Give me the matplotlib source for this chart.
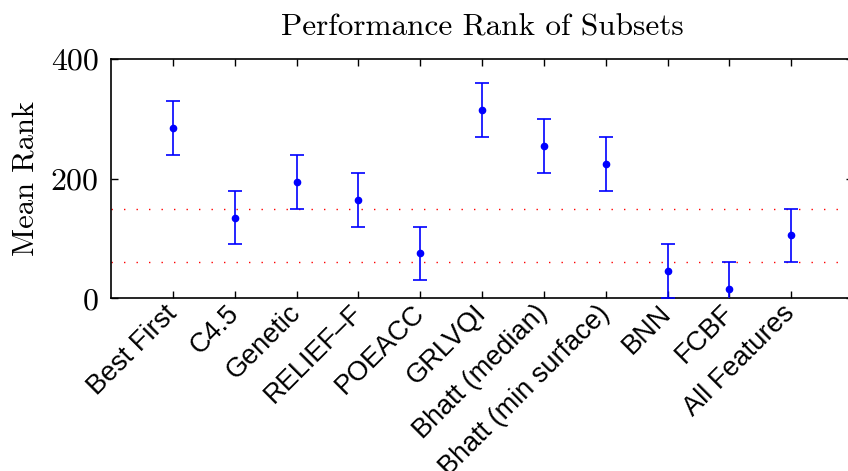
import matplotlib
matplotlib.use('Agg')
import matplotlib.pyplot as plt

# subsets and their mean rank with error
subsets = ['Best First', 'C4.5', 'Genetic', 'RELIEF\u2013F', 'POEACC', 'GRLVQI',
           'Bhatt (median)', 'Bhatt (min surface)', 'BNN', 'FCBF', 'All Features']
meanRank = [285, 135, 195, 165, 75, 315, 255, 225, 45, 15, 105]
rankError = [45, 45, 45, 45, 45, 45, 45, 45, 45, 45, 45]

# reference levels
levels = [150, 60]

yTicks = [0, 200, 400]

fig = plt.figure(figsize=(8.48, 4.71), dpi=100)
ax = fig.add_axes([111 / 848, 1 - 298.3 / 471, 742 / 848, 239.3 / 471])

positions = list(range(1, len(subsets) + 1))

for level in levels:
    ax.axhline(level, color='r', linewidth=1, linestyle=(0, (1, 8)))

ax.errorbar(positions, meanRank, yerr=rankError, fmt='o', color='b',
            markersize=4.5, elinewidth=1.2, capsize=5, capthick=1.2, zorder=3)

ax.set_xlim(0, 12)
ax.set_ylim(0, 400)

ax.set_xticks(positions)
ax.set_xticklabels(subsets, rotation=45, ha='right', va='center',
                   rotation_mode='anchor', fontsize=19.5,
                   family='Liberation Sans')

ax.set_yticks(yTicks)
ax.set_yticklabels([str(t) for t in yTicks], fontsize=23, family='cmr10')

ax.tick_params(direction='in', top=True, right=True, length=5, width=1)
ax.tick_params(axis='y', pad=9)
ax.tick_params(axis='x', pad=8)

for spine in ax.spines.values():
    spine.set_linewidth(1.2)

ax.set_ylabel('Mean Rank', fontsize=22, family='cmr10', labelpad=8)
ax.set_title('Performance Rank of Subsets', fontsize=22.5, family='cmr10', pad=17)

plt.savefig('out.png', dpi=100)
